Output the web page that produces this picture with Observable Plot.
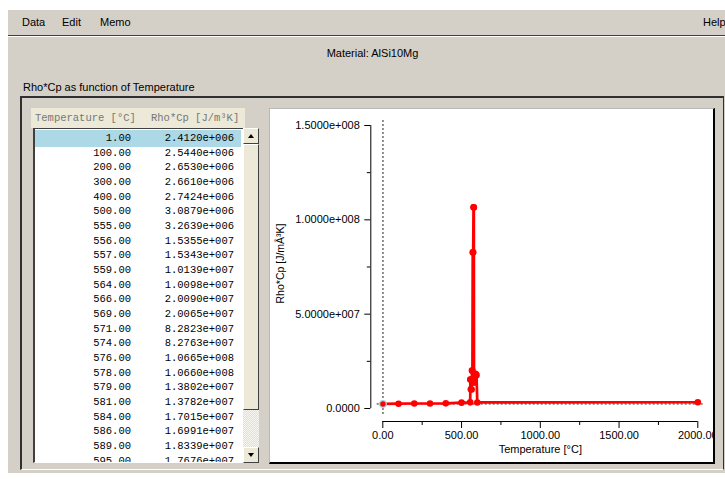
<!DOCTYPE html>
<html><head><meta charset="utf-8">
<script src="https://cdn.jsdelivr.net/npm/d3@7"></script>
<script src="https://cdn.jsdelivr.net/npm/@observablehq/plot@0.6"></script>
<style>
body{margin:0;width:725px;height:479px;position:relative;overflow:hidden;background:#fff;font-family:"Liberation Sans",Arial,sans-serif;font-size:11px;color:#000}
.a{position:absolute;box-sizing:border-box}
#win{left:8px;top:10px;width:717px;height:463px;background:#d4d0c8}
#menu{left:8px;top:10px;width:717px;height:26px;border-bottom:1px solid #404040;box-shadow:0 1px 0 #fff}
.mi{position:absolute;top:6px}
#frame{left:20px;top:96px;width:704px;height:374px;border-top:2px solid #303030;border-left:2px solid #303030;border-right:1px solid #303030;border-bottom:1px solid #fff}
#hdr{left:31px;top:108px;width:214px;height:20px;background:#ece9d8;font-family:"Liberation Mono","Courier New",monospace;font-size:10.5px;color:#777;white-space:pre;line-height:20px}
.h{position:absolute;top:0}
#list{left:33px;top:128px;width:210px;height:335px;background:#fff;border-left:2px solid #404040;border-top:1px solid #404040;border-bottom:1px solid #fff;overflow:hidden;font-family:"Liberation Mono","Courier New",monospace;font-size:10.5px}
.row{position:absolute;left:0;width:206px;height:15px;line-height:15px;white-space:pre}
.row.sel{background:#add8e6}
.c1{position:absolute;left:0;width:96px;text-align:right}
.c2{position:absolute;left:96px;width:103px;text-align:right}
#sb{left:243px;top:128px;width:16px;height:335px;background:#ece9d8}
.btn{position:absolute;left:0;width:16px;height:16px;background:#ece9d8;border:1px solid;border-color:#fff #404040 #404040 #fff;box-sizing:border-box}
#thumb{position:absolute;left:0;top:16px;width:16px;height:266px;background:#ece9d8;border:1px solid;border-color:#fff #404040 #404040 #fff;box-sizing:border-box}
#track{position:absolute;left:0;top:282px;width:16px;height:37px;background:repeating-conic-gradient(#f6f5f0 0 25%,#e2dfd4 0 50%) 0 0/2px 2px}
.tri{position:absolute;left:4px;width:0;height:0;border-left:3.5px solid transparent;border-right:3.5px solid transparent}
#panel{left:269px;top:108px;width:446px;height:356px;background:#fff;border-top:1px solid #b8b8b8;border-left:1px solid #b8b8b8;border-right:2px solid #000;border-bottom:2px solid #000;overflow:hidden}
#chart{position:absolute;left:0;top:0}
</style></head><body>
<div id="win" class="a"></div>
<div id="menu" class="a"><span class="mi" style="left:14px">Data</span><span class="mi" style="left:54px">Edit</span><span class="mi" style="left:92px">Memo</span><span class="mi" style="left:695px">Help</span></div>
<div class="a" style="left:0;top:47px;width:745px;text-align:center">Material: AlSi10Mg</div>
<div class="a" style="left:23px;top:81px">Rho*Cp as function of Temperature</div>
<div id="frame" class="a"></div>
<div id="hdr" class="a"></div>
<div id="list" class="a"></div>
<div id="sb" class="a">
  <div class="btn" style="top:0"><div class="tri" style="top:5px;border-bottom:4px solid #000"></div></div>
  <div id="thumb"></div>
  <div id="track"></div>
  <div class="btn" style="top:319px"><div class="tri" style="top:5px;border-top:4px solid #000"></div></div>
</div>
<div id="panel" class="a"><div id="chart"></div></div>
<script>
// ---- data ----
const columnHeaders = ["Temperature [°C]", "Rho*Cp [J/m³K]"];
const temperature = [1, 100, 200, 300, 400, 500, 555, 556, 557, 559, 564, 566, 569, 571, 574, 576, 578, 579, 581, 584, 586, 589, 595, 600, 2000];
const rhoCp = [2.4120e6, 2.5440e6, 2.6530e6, 2.6610e6, 2.7424e6, 3.0879e6, 3.2639e6, 1.5355e7, 1.5343e7, 1.0139e7, 1.0098e7, 2.0090e7, 2.0065e7, 8.2823e7, 8.2763e7, 1.0665e8, 1.0660e8, 1.3802e7, 1.3782e7, 1.7015e7, 1.6991e7, 1.8339e7, 1.7676e7, 3.2e6, 3.3e6];
const selectedIndex = 0;
const xTicks = [0, 500, 1000, 1500, 2000];
const xMinorTicks = [250, 750, 1250, 1750];
const yTicks = [0, 5e7, 1e8, 1.5e8];
const yMinorTicks = [2.5e7, 7.5e7, 1.25e8];
const xLabel = "Temperature [°C]";
const yLabel = "Rho*Cp [J/mÂ³K]";

function sci(v) {
  if (v === 0) return "0.0000";
  const [m, e] = v.toExponential(4).split("e");
  const s = e[0] === "-" ? "-" : "+";
  return m + "e" + s + String(Math.abs(+e)).padStart(3, "0");
}

// ---- table ----
const hdr = document.getElementById("hdr");
[4, 120].forEach((left, k) => {
  const s = document.createElement("span");
  s.className = "h"; s.style.left = left + "px"; s.textContent = columnHeaders[k];
  hdr.appendChild(s);
});
const list = document.getElementById("list");
const rowH = 14.67, listInner = 333;
temperature.forEach((t, i) => {
  const top = 2 + i * rowH;
  if (top >= listInner) return; // scrolled out of view
  const r = document.createElement("div");
  r.className = "row" + (i === selectedIndex ? " sel" : "");
  r.style.top = top + "px";
  if (i === selectedIndex) { r.style.top = (top - 1.5) + "px"; r.style.paddingTop = "1.5px"; r.style.height = "15.5px"; }
  r.innerHTML = `<span class="c1">${t.toFixed(2)}</span><span class="c2">${sci(rhoCp[i])}</span>`;
  list.appendChild(r);
});

// ---- chart ----
const data = temperature.map((t, i) => ({t, v: rhoCp[i], i}));
const sel = data[selectedIndex];
const W = 443, H = 353;
const chart = Plot.plot({
  width: W, height: H,
  marginLeft: 112.3, marginRight: 15.7, marginTop: 16, marginBottom: 54,
  style: {fontFamily: "'Liberation Sans', Arial, sans-serif", fontSize: "11px", color: "#000", background: "#fff", overflow: "hidden"},
  x: {domain: [0, 2000], nice: false},
  y: {domain: [0, 1.5e8], nice: false},
  marks: [
    Plot.ruleX([sel.t], {insetTop: -5, insetBottom: -7, stroke: "#222", strokeDasharray: "2,2"}),
    Plot.ruleY([sel.v], {insetLeft: -5.6, insetRight: -7, stroke: "#222", strokeDasharray: "2,2"}),
    Plot.line(data, {x: "t", y: "v", stroke: "#ff0000", strokeWidth: 2.7}),
    Plot.dot(data, {x: "t", y: "v", r: 3.3, fill: "#ff0000"}),
    Plot.dot([sel], {x: "t", y: "v", r: 3.3, fill: "#ff0000", stroke: "#9fd8ea", strokeWidth: 1.2}),
    Plot.ruleX([0], {y1: yTicks[0], y2: yTicks[yTicks.length - 1], dx: -12, stroke: "#000"}),
    Plot.axisY({ticks: yTicks, tickSize: 6, tickPadding: 5, dx: -12, tickFormat: sci, label: null, stroke: "#000"}),
    Plot.axisY({ticks: yMinorTicks, tickSize: 3.5, dx: -12, tickFormat: () => "", label: null, stroke: "#000"}),
    Plot.ruleY([0], {x1: xTicks[0], x2: xTicks[xTicks.length - 1], dy: 13, stroke: "#000"}),
    Plot.axisX({ticks: xTicks, tickSize: 7, tickPadding: 3, dy: 13, tickFormat: d => d.toFixed(2), label: null, stroke: "#000"}),
    Plot.axisX({ticks: xMinorTicks, tickSize: 4, dy: 13, tickFormat: () => "", label: null, stroke: "#000"}),
    Plot.text([xLabel], {frameAnchor: "bottom", dy: 44.7, text: d => d, fill: "#000"}),
    Plot.text([yLabel], {frameAnchor: "left", textAnchor: "middle", dx: -102, dy: -3.5, rotate: -90, text: d => d, fill: "#000", fontSize: 10.5})
  ]
});
document.getElementById("chart").appendChild(chart);
</script>
</body></html>
